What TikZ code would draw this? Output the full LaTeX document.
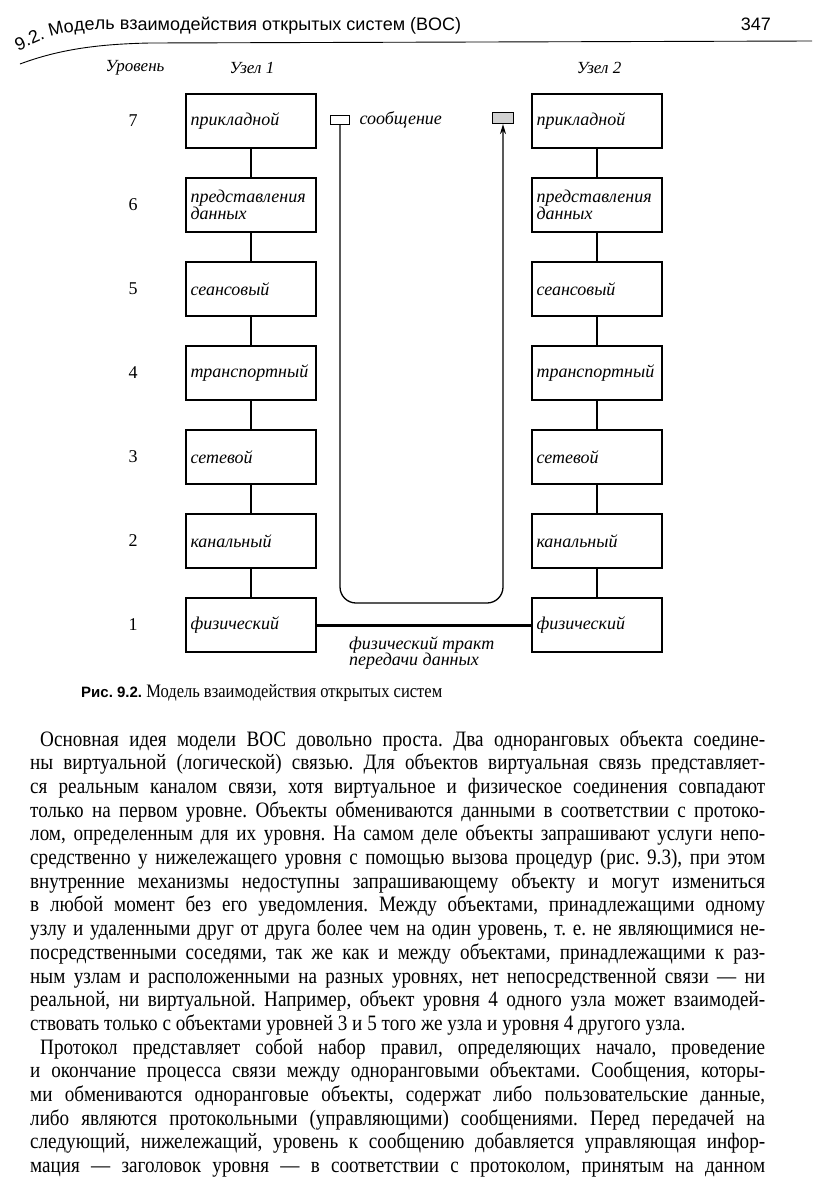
\documentclass[tikz,border=0pt]{standalone}
\usepackage{fontspec}
\setmainfont{Liberation Serif}
\newfontfamily\bodyfont[FakeStretch=0.87]{Liberation Serif}
\newfontfamily\headfont{Liberation Sans}
\usetikzlibrary{arrows.meta,positioning,decorations.text}
\frenchspacing

\begin{document}
\begin{tikzpicture}[x=1pt,y=-1pt,
  layer/.style={draw,line width=1.3pt,minimum width=130pt,minimum height=54pt,
    text width=121pt,inner sep=4.5pt,align=left,font=\fontsize{18}{16.5}\selectfont\itshape},
  levelnum/.style={anchor=base,font=\fontsize{18}{18}\selectfont},
  colhead/.style={font=\fontsize{17}{17}\selectfont\itshape},
  wire/.style={line width=1.1pt},
  msgbox/.style={draw,line width=1.2pt,minimum width=19pt,minimum height=9pt,inner sep=0pt},
  msgpath/.style={line width=1.3pt,rounded corners=16pt,-{Stealth[length=10pt,width=6pt]}},
  bodyline/.style={anchor=base west,inner sep=0pt,font=\bodyfont\fontsize{22}{22}\selectfont}]
\useasboundingbox (0,0) rectangle (816,1192);

% running head
\path[decorate,decoration={text along path,text align=left,
  text={|\headfont\fontsize{18}{18}\selectfont|9.2. Модель взаимодействия открытых систем (ВОС)}}]
  (18,51) -- (50,37) .. controls (78,28) and (100,30) .. (140,30) -- (540,30);
\node[font=\headfont\fontsize{18}{18}\selectfont,anchor=base east,inner sep=0pt] (pageno) at (771,30) {347};
\draw[line width=0.9pt] (20,64) .. controls (60,49) and (100,44) .. (150,43) -- (812,41);

% column heads
\node[colhead] (hlevel) at (135,68) {Уровень};
\node[colhead] (hnode1) at (252,68) {Узел 1};
\node[colhead] (hnode2) at (599,68) {Узел 2};

% the seven layers of both nodes
\foreach \lvl/\name in {7/{прикладной},6/{представления\\данных},5/{сеансовый},
    4/{транспортный},3/{сетевой},2/{канальный},1/{физический}} {
  \pgfmathsetmacro\yy{121+(7-\lvl)*84}
  \node[levelnum] (n\lvl) at (133,\yy+5) {\lvl};
  \node[layer] (a\lvl) at (251,\yy) {\name};
  \node[layer] (b\lvl) at (597,\yy) {\name};
}
\foreach \lvl [evaluate=\lvl as \nxt using int(\lvl-1)] in {7,...,2} {
  \draw[wire] (a\lvl) -- (a\nxt);
  \draw[wire] (b\lvl) -- (b\nxt);
}

% message
\node[msgbox] (msgA) at (340,120) {};
\node[msgbox,minimum width=21pt,minimum height=11pt,fill=gray!35] (msgB) at (503,118) {};
\node[font=\fontsize{18}{18}\selectfont\itshape,right=6pt of msgA] (msglbl) {сообщение};
\coordinate (turn) at (0,603);
\draw[msgpath] (msgA.south) -- (msgA.south |- turn) -- (msgB.south |- turn) -- (msgB.south);

% physical path
\draw[line width=3pt] (a1) -- (b1);
\node[font=\fontsize{18}{16.5}\selectfont\itshape,align=left,anchor=north west,inner sep=0pt]
  (tract) at (349,636) {физический тракт\\передачи данных};

% caption
\node[anchor=base west,inner sep=0pt] (caption) at (81,697)
  {{\headfont\bfseries\fontsize{15}{15}\selectfont Рис. 9.2.}{\bodyfont\fontsize{19}{19}\selectfont\ Модель взаимодействия открытых систем}};

% body text
\foreach \xs/\md/\txt [count=\i] in {
  40/s/{Основная идея модели ВОС довольно проста. Два одноранговых объекта соедине-},
  30/s/{ны виртуальной (логической) связью. Для объектов виртуальная связь представляет-},
  30/s/{ся реальным каналом связи, хотя виртуальное и физическое соединения совпадают},
  30/s/{только на первом уровне. Объекты обмениваются данными в соответствии с протоко-},
  30/s/{лом, определенным для их уровня. На самом деле объекты запрашивают услуги непо-},
  30/s/{средственно у нижележащего уровня с помощью вызова процедур (рис. 9.3), при этом},
  30/s/{внутренние механизмы недоступны запрашивающему объекту и могут измениться},
  30/s/{в любой момент без его уведомления. Между объектами, принадлежащими одному},
  30/s/{узлу и удаленными друг от друга более чем на один уровень, т. е. не являющимися не-},
  30/s/{посредственными соседями, так же как и между объектами, принадлежащими к раз-},
  30/s/{ным узлам и расположенными на разных уровнях, нет непосредственной связи — ни},
  30/s/{реальной, ни виртуальной. Например, объект уровня 4 одного узла может взаимодей-},
  30/l/{ствовать только с объектами уровней 3 и 5 того же узла и уровня 4 другого узла.},
  40/s/{Протокол представляет собой набор правил, определяющих начало, проведение},
  30/s/{и окончание процесса связи между одноранговыми объектами. Сообщения, которы-},
  30/s/{ми обмениваются одноранговые объекты, содержат либо пользовательские данные,},
  30/s/{либо являются протокольными (управляющими) сообщениями. Перед передачей на},
  30/s/{следующий, нижележащий, уровень к сообщению добавляется управляющая инфор-},
  30/s/{мация — заголовок уровня — в соответствии с протоколом, принятым на данном}} {
  \node[bodyline] (line\i) at (\xs,{746+(\i-1)*23.7}) {\makebox[\dimexpr765pt-\xs pt\relax][\md]{\txt}};
}
\end{tikzpicture}
\end{document}
